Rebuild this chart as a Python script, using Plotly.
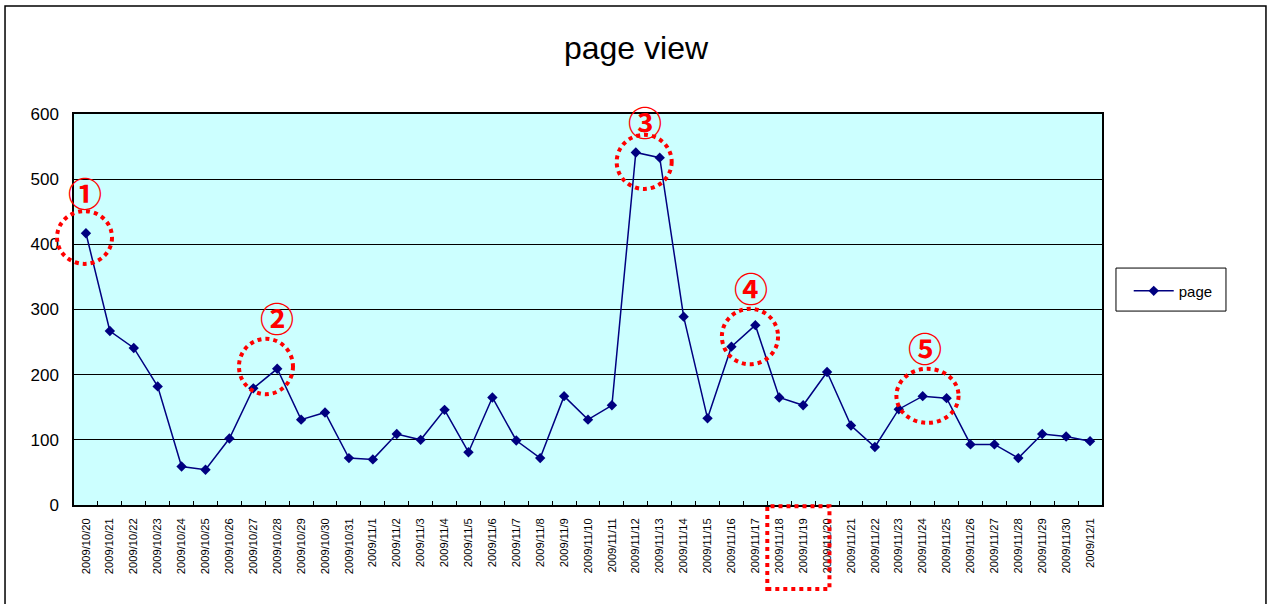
import plotly.graph_objects as go

dates = [
    "2009/10/20", "2009/10/21", "2009/10/22", "2009/10/23", "2009/10/24", "2009/10/25",
    "2009/10/26", "2009/10/27", "2009/10/28", "2009/10/29", "2009/10/30", "2009/10/31",
    "2009/11/1", "2009/11/2", "2009/11/3", "2009/11/4", "2009/11/5", "2009/11/6",
    "2009/11/7", "2009/11/8", "2009/11/9", "2009/11/10", "2009/11/11", "2009/11/12",
    "2009/11/13", "2009/11/14", "2009/11/15", "2009/11/16", "2009/11/17", "2009/11/18",
    "2009/11/19", "2009/11/20", "2009/11/21", "2009/11/22", "2009/11/23", "2009/11/24",
    "2009/11/25", "2009/11/26", "2009/11/27", "2009/11/28", "2009/11/29", "2009/11/30",
    "2009/12/1",
]
page = [
    417, 267, 241, 182, 59, 54,
    102, 179, 209, 131, 142, 72,
    70, 109, 100, 146, 81, 165,
    99, 72, 167, 131, 153, 541,
    533, 289, 133, 243, 276, 165,
    153, 204, 122, 89, 147, 167,
    164, 93, 93, 72, 109, 105,
    98,
]
y_ticks = [0, 100, 200, 300, 400, 500, 600]

# callouts: label, label position (category index, value), ellipse bounds (category index / value)
callout_labels = ["①", "②", "③", "④", "⑤"]
callout_label_x = [-0.05, 8.0, 23.4, 27.8, 35.1]
callout_label_y = [480, 287, 589, 333, 241]
ellipse_x0 = [-1.21, 6.40, 22.2, 26.6, 33.9]
ellipse_x1 = [1.09, 8.66, 24.5, 28.95, 36.5]
ellipse_y0 = [370, 170, 485, 216, 126]
ellipse_y1 = [451, 255, 568, 301, 209]
# dotted box around the 2009/11/18 - 2009/11/20 labels (category index)
box_x0, box_x1 = 28.5, 31.1

RED = "#FF0000"
NAVY = "#000080"
FONT = "Liberation Sans, Arial, sans-serif"
N = len(dates)


def idx_to_domain(i):
    return (i + 0.5) / N


fig = go.Figure()
fig.add_trace(go.Scatter(
    x=dates, y=page, name="page", mode="lines+markers",
    line=dict(color=NAVY, width=1.5),
    marker=dict(symbol="diamond", size=8, color=NAVY),
))

shapes = []
# outer chart frame
shapes.append(dict(type="rect", xref="paper", yref="paper",
                   x0=-0.0671, x1=1.1595, y0=-0.28, y1=1.276,
                   line=dict(color="black", width=1.5), layer="below"))
# legend box
shapes.append(dict(type="rect", xref="paper", yref="paper",
                   x0=1.0136, x1=1.1206, y0=0.496, y1=0.606,
                   line=dict(color="black", width=1), fillcolor="white", layer="below"))
for i in range(len(callout_labels)):
    shapes.append(dict(type="circle", xref="x domain", yref="y",
                       x0=idx_to_domain(ellipse_x0[i]), x1=idx_to_domain(ellipse_x1[i]),
                       y0=ellipse_y0[i], y1=ellipse_y1[i],
                       line=dict(color=RED, width=4, dash="dot")))
shapes.append(dict(type="rect", xref="x domain", yref="paper",
                   x0=idx_to_domain(box_x0), x1=idx_to_domain(box_x1), y0=-0.215, y1=-0.003,
                   line=dict(color=RED, width=4, dash="dot")))

annotations = []
for i in range(len(callout_labels)):
    annotations.append(dict(x=idx_to_domain(callout_label_x[i]), y=callout_label_y[i],
                            xref="x domain", yref="y", xanchor="center", yanchor="middle",
                            text="<b>" + callout_labels[i] + "</b>", showarrow=False,
                            font=dict(family="Noto Sans CJK JP", size=34, color=RED)))

fig.update_layout(
    width=1272, height=604,
    margin=dict(l=74, r=170, t=114, b=99),
    paper_bgcolor="white",
    plot_bgcolor="#CCFFFF",
    title=dict(text="page view", x=0.5, xref="container", y=0.9205, yref="container",
               xanchor="center", yanchor="middle",
               font=dict(family=FONT, size=32, color="black")),
    font=dict(family=FONT, color="black"),
    showlegend=True,
    legend=dict(x=1.026, xanchor="left", y=0.547, yanchor="middle",
                bgcolor="rgba(0,0,0,0)", borderwidth=0,
                font=dict(family=FONT, size=15, color="black"),
                itemwidth=40),
    xaxis=dict(type="category", categoryorder="array", categoryarray=dates,
               range=[-0.5, N - 0.5],
               tickangle=-90, tickfont=dict(family=FONT, size=11.2, color="black"),
               tickson="boundaries", ticks="inside", ticklen=4, tickcolor="black",
               ticklabelstandoff=7,
               showgrid=False, showline=True, linecolor="black", linewidth=1.5,
               mirror=True, zeroline=False),
    yaxis=dict(range=[0, 600], tickvals=y_ticks,
               tickfont=dict(family=FONT, size=17, color="black"),
               showgrid=True, gridcolor="black", gridwidth=1,
               showline=True, linecolor="black", linewidth=1.5, mirror=True,
               ticks="", ticklabelstandoff=10, zeroline=False),
    shapes=shapes,
    annotations=annotations,
)

fig.write_html("out.html", config={"displayModeBar": False},
               post_script="document.body.style.margin='0';")
